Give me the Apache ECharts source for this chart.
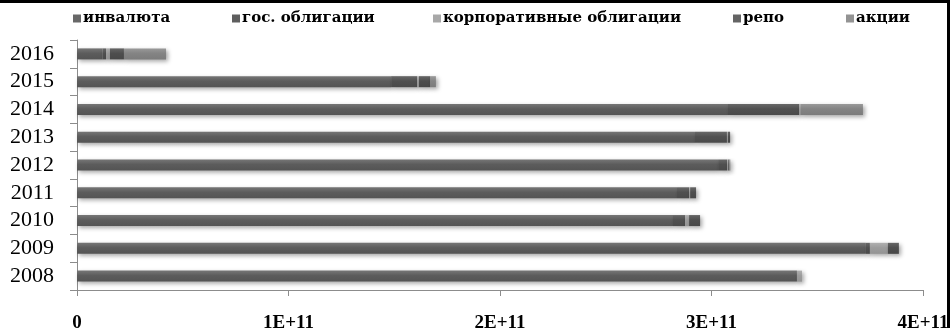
<!DOCTYPE html>
<html>
<head>
<meta charset="utf-8">
<script src="https://cdn.jsdelivr.net/npm/echarts@6/dist/echarts.min.js"></script>
<style>
html,body{margin:0;padding:0;background:#fff;}
#chart{width:950px;height:328px;}
</style>
</head>
<body>
<div id="chart"></div>
<script>
// Data (values in units)
var years = ['2008','2009','2010','2011','2012','2013','2014','2015','2016'];
var seriesNames = ['инвалюта','гос. облигации','корпоративные облигации','репо','акции'];
var invalyuta   = [3.404e11, 3.73e11, 2.818e11, 2.837e11, 3.031e11, 2.922e11, 3.078e11, 1.485e11, 1.2e10];
var gosObl      = [0,        1.9e9,   5.7e9,    5.7e9,    4.3e9,    1.51e10,  3.36e10,  1.23e10,  1.7e9];
var korpObl     = [2.4e9,    8.5e9,   1.9e9,    5e8,      5e8,      5e8,      9e8,      9e8,      1.9e9];
var repo        = [0,        5.2e9,   5.2e9,    2.8e9,    5e8,      1.0e9,    0,        5.2e9,    6.6e9];
var akcii       = [0,        0,       0,        0,        5e8,      0,        2.93e10,  2.8e9,    1.99e10];
var xTickLabels = ['0','1E+11','2E+11','3E+11','4E+11'];

var seriesData = [invalyuta, gosObl, korpObl, repo, akcii];
var baseColors = [
  ['#767676','#5c5c5c','#545454'],
  ['#686868','#505050','#4a4a4a'],
  ['#b0b0b0','#9c9c9c','#949494'],
  ['#666666','#4e4e4e','#484848'],
  ['#9a9a9a','#848484','#7c7c7c']
];
var legendColors = ['#686868','#5e5e5e','#a8a8a8','#646464','#939393'];
var legendLeft = [73, 232, 433, 733, 846];

function grad(c){
  return new echarts.graphic.LinearGradient(0,0,0,1,[
    {offset:0,color:c[0]},{offset:0.45,color:c[1]},{offset:1,color:c[2]}
  ]);
}

var chart = echarts.init(document.getElementById('chart'), null, {renderer:'canvas'});

var legends = seriesNames.map(function(n,i){
  return {
    left: legendLeft[i], top: 11,
    data: [{name:n, itemStyle:{color:legendColors[i]}}],
    icon: 'rect', itemWidth: 8, itemHeight: 8, itemGap: 0,
    padding: 0,
    textStyle: {fontFamily:'DejaVu Serif', fontWeight:'bold', fontSize:15, color:'#000', padding:[0,0,0,-3]},
    selectedMode: false
  };
});

var series = seriesNames.map(function(n,i){
  return {
    name: n, type: 'bar', stack: 'total',
    barWidth: 11,
    data: seriesData[i],
    itemStyle: {
      color: grad(baseColors[i]),
      shadowColor: 'rgba(0,0,0,0.35)', shadowBlur: 4, shadowOffsetX: 2, shadowOffsetY: 2
    },
    emphasis: {disabled:true},
    animation: false
  };
});

chart.setOption({
  backgroundColor: '#fff',
  animation: false,
  legend: legends,
  grid: {left: 77, right: 27, top: 40, bottom: 38, containLabel: false, outerBoundsMode: 'none'},
  xAxis: {
    type: 'value', min: 0, max: 4e11, interval: 1e11,
    axisLine: {show:true, lineStyle:{color:'#8c8c8c', width:1}},
    axisTick: {show:true, length:6, lineStyle:{color:'#8c8c8c'}},
    splitLine: {show:false},
    axisLabel: {
      margin: 24,
      fontFamily: 'Liberation Serif', fontWeight: 'bold', fontSize: 19, color: '#000',
      formatter: function(v){ return xTickLabels[Math.round(v/1e11)]; }
    }
  },
  yAxis: {
    type: 'category', data: years,
    axisLine: {show:true, lineStyle:{color:'#8c8c8c', width:1}},
    axisTick: {show:true, length:7, lineStyle:{color:'#8c8c8c'}},
    axisLabel: {interval: 0, margin: 23, fontFamily: 'Liberation Serif', fontSize: 22, color: '#000'}
  },
  series: series,
  graphic: [
    {type:'rect', shape:{x:0,y:0,width:950,height:3}, style:{fill:'#000'}, silent:true, z:100},
    {type:'rect', shape:{x:947,y:0,width:3,height:328}, style:{fill:'#000'}, silent:true, z:100}
  ]
});
</script>
</body>
</html>
